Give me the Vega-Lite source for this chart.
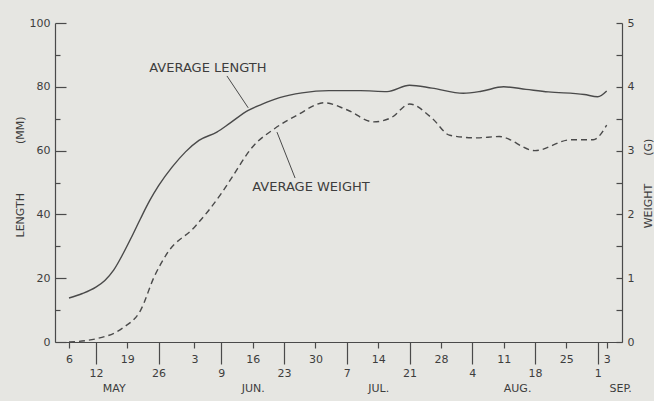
{
  "$schema": "https://vega.github.io/schema/vega-lite/v6.json",
  "width": 567,
  "height": 319,
  "autosize": {"type": "none"},
  "padding": {"left": 55, "top": 23, "right": 32, "bottom": 59},
  "background": "#e6e6e2",
  "config": {
    "view": {"stroke": null},
    "font": "DejaVu Sans",
    "axis": {
      "grid": false,
      "domainColor": "#4a4a4a",
      "tickColor": "#4a4a4a",
      "labelColor": "#3d3d3d",
      "titleColor": "#3d3d3d",
      "labelFont": "DejaVu Sans",
      "titleFont": "DejaVu Sans",
      "labelFontSize": 11,
      "titleFontSize": 11,
      "titleFontWeight": "normal",
      "domainWidth": 1.2,
      "tickWidth": 1.2,
      "labelFlush": false
    }
  },
  "datasets": {
    "length": [
      {"date": "2001-05-06", "length_mm": 13.8},
      {"date": "2001-05-09", "length_mm": 15.2},
      {"date": "2001-05-12", "length_mm": 17.2},
      {"date": "2001-05-14", "length_mm": 19.3},
      {"date": "2001-05-16", "length_mm": 22.6},
      {"date": "2001-05-18", "length_mm": 27.5},
      {"date": "2001-05-20", "length_mm": 33},
      {"date": "2001-05-22", "length_mm": 38.8},
      {"date": "2001-05-24", "length_mm": 44.3},
      {"date": "2001-05-26", "length_mm": 49},
      {"date": "2001-05-29", "length_mm": 54.8},
      {"date": "2001-06-01", "length_mm": 59.6},
      {"date": "2001-06-04", "length_mm": 63.2},
      {"date": "2001-06-08", "length_mm": 65.8},
      {"date": "2001-06-11", "length_mm": 68.7},
      {"date": "2001-06-15", "length_mm": 72.6},
      {"date": "2001-06-18", "length_mm": 74.5},
      {"date": "2001-06-22", "length_mm": 76.6},
      {"date": "2001-06-27", "length_mm": 78.1},
      {"date": "2001-07-03", "length_mm": 78.8},
      {"date": "2001-07-10", "length_mm": 78.8},
      {"date": "2001-07-16", "length_mm": 78.5},
      {"date": "2001-07-21", "length_mm": 80.5},
      {"date": "2001-07-26", "length_mm": 79.6},
      {"date": "2001-08-02", "length_mm": 78.0},
      {"date": "2001-08-06", "length_mm": 78.6},
      {"date": "2001-08-11", "length_mm": 80.0},
      {"date": "2001-08-16", "length_mm": 79.2},
      {"date": "2001-08-21", "length_mm": 78.4},
      {"date": "2001-08-29", "length_mm": 77.6},
      {"date": "2001-09-01", "length_mm": 76.9},
      {"date": "2001-09-03", "length_mm": 78.7}
    ],
    "weight": [
      {"date": "2001-05-06", "weight_g": 0.0},
      {"date": "2001-05-12", "weight_g": 0.05},
      {"date": "2001-05-18", "weight_g": 0.22},
      {"date": "2001-05-22", "weight_g": 0.5},
      {"date": "2001-05-25", "weight_g": 1.02},
      {"date": "2001-05-28", "weight_g": 1.4},
      {"date": "2001-06-03", "weight_g": 1.8},
      {"date": "2001-06-09", "weight_g": 2.33},
      {"date": "2001-06-11", "weight_g": 2.54},
      {"date": "2001-06-16", "weight_g": 3.06},
      {"date": "2001-06-21", "weight_g": 3.35},
      {"date": "2001-06-26", "weight_g": 3.56},
      {"date": "2001-07-02", "weight_g": 3.75},
      {"date": "2001-07-07", "weight_g": 3.64},
      {"date": "2001-07-13", "weight_g": 3.45},
      {"date": "2001-07-17", "weight_g": 3.52},
      {"date": "2001-07-21", "weight_g": 3.73},
      {"date": "2001-07-26", "weight_g": 3.51},
      {"date": "2001-07-30", "weight_g": 3.24},
      {"date": "2001-08-05", "weight_g": 3.2},
      {"date": "2001-08-10", "weight_g": 3.22},
      {"date": "2001-08-18", "weight_g": 3.0},
      {"date": "2001-08-26", "weight_g": 3.17},
      {"date": "2001-08-31", "weight_g": 3.17},
      {"date": "2001-09-03", "weight_g": 3.4}
    ],
    "notes": [
      {"date": "2001-06-06", "y": 86, "label": "AVERAGE LENGTH"},
      {"date": "2001-06-29", "y": 48.6, "label": "AVERAGE WEIGHT"}
    ],
    "leaders": [
      {"date": "2001-06-10T06:00:00Z", "y": 83.4, "date2": "2001-06-15T00:00:00Z", "y2": 73.4},
      {"date": "2001-06-21T10:00:00Z", "y": 65.8, "date2": "2001-06-25T11:00:00Z", "y2": 51.4}
    ]
  },
  "layer": [
    {
      "data": {"name": "length"},
      "mark": {"type": "line", "interpolate": "monotone", "color": "#4a4a4a", "strokeWidth": 1.4},
      "encoding": {
        "x": {
          "field": "date", "type": "temporal",
          "scale": {"type": "utc", "nice": false, "domain": [{"year": 2001, "month": 5, "date": 2, "hours": 21, "utc": true}, {"year": 2001, "month": 9, "date": 6, "hours": 10, "utc": true}]},
          "axis": {
            "orient": "bottom", "title": null,
            "values": [
              {"year": 2001, "month": 5, "date": 6, "utc": true},
              {"year": 2001, "month": 5, "date": 19, "utc": true},
              {"year": 2001, "month": 6, "date": 3, "utc": true},
              {"year": 2001, "month": 6, "date": 16, "utc": true},
              {"year": 2001, "month": 6, "date": 30, "utc": true},
              {"year": 2001, "month": 7, "date": 14, "utc": true},
              {"year": 2001, "month": 7, "date": 28, "utc": true},
              {"year": 2001, "month": 8, "date": 11, "utc": true},
              {"year": 2001, "month": 8, "date": 25, "utc": true},
              {"year": 2001, "month": 9, "date": 3, "utc": true}
            ],
            "labelExpr": "utcdate(datum.value)",
            "tickSize": 6, "labelPadding": 5
          }
        },
        "y": {
          "field": "length_mm", "type": "quantitative",
          "scale": {"domain": [0, 100], "nice": false},
          "axis": {
            "orient": "left",
            "values": [0, 20, 40, 60, 80, 100],
            "tickSize": -11, "labelPadding": 16,
            "title": "LENGTH\u00a0\u00a0\u00a0\u00a0\u00a0\u00a0\u00a0\u00a0\u00a0\u00a0\u00a0\u00a0\u00a0\u00a0(MM)",
            "titleX": -35, "titleY": 153.5, "titleAngle": 270, "titleAlign": "center", "titleBaseline": "middle"
          }
        }
      }
    },
    {
      "data": {"name": "length"},
      "mark": {"type": "line", "interpolate": "monotone", "strokeOpacity": 0},
      "encoding": {
        "x": {
          "field": "date", "type": "temporal",
          "scale": {"type": "utc", "nice": false, "domain": [{"year": 2001, "month": 5, "date": 2, "hours": 21, "utc": true}, {"year": 2001, "month": 9, "date": 6, "hours": 10, "utc": true}]},
          "axis": {
            "orient": "bottom", "title": null, "domain": false,
            "values": [
              {"year": 2001, "month": 5, "date": 12, "utc": true},
              {"year": 2001, "month": 5, "date": 26, "utc": true},
              {"year": 2001, "month": 6, "date": 9, "utc": true},
              {"year": 2001, "month": 6, "date": 23, "utc": true},
              {"year": 2001, "month": 7, "date": 7, "utc": true},
              {"year": 2001, "month": 7, "date": 21, "utc": true},
              {"year": 2001, "month": 8, "date": 4, "utc": true},
              {"year": 2001, "month": 8, "date": 18, "utc": true},
              {"year": 2001, "month": 9, "date": 1, "utc": true}
            ],
            "labelExpr": "utcdate(datum.value)",
            "tickSize": 22, "labelPadding": 3
          }
        },
        "y": {
          "field": "length_mm", "type": "quantitative",
          "scale": {"domain": [0, 100], "nice": false},
          "axis": {
            "orient": "left", "title": null, "domain": false, "labels": false,
            "values": [10, 30, 50, 70, 90],
            "tickSize": -5
          }
        }
      }
    },
    {
      "data": {"name": "weight"},
      "mark": {"type": "line", "interpolate": "monotone", "color": "#4a4a4a", "strokeWidth": 1.4, "strokeDash": [6, 4]},
      "encoding": {
        "x": {
          "field": "date", "type": "temporal",
          "scale": {"type": "utc", "nice": false, "domain": [{"year": 2001, "month": 5, "date": 2, "hours": 21, "utc": true}, {"year": 2001, "month": 9, "date": 6, "hours": 10, "utc": true}]},
          "axis": {
            "orient": "bottom", "title": null, "domain": false, "ticks": false,
            "values": [
              {"year": 2001, "month": 5, "date": 16, "utc": true},
              {"year": 2001, "month": 6, "date": 16, "utc": true},
              {"year": 2001, "month": 7, "date": 14, "utc": true},
              {"year": 2001, "month": 8, "date": 14, "utc": true},
              {"year": 2001, "month": 9, "date": 6, "utc": true}
            ],
            "labelExpr": "['MAY', 'JUN.', 'JUL.', 'AUG.', 'SEP.'][utcmonth(datum.value) - 4]",
            "labelPadding": 40
          }
        },
        "y": {
          "field": "weight_g", "type": "quantitative",
          "scale": {"domain": [0, 5], "nice": false},
          "axis": {
            "orient": "right",
            "values": [0, 0.5, 1, 1.5, 2, 2.5, 3, 3.5, 4, 4.5, 5],
            "labelExpr": "datum.value % 1 === 0 ? format(datum.value, 'd') : ''",
            "tickSize": -6, "labelPadding": 11,
            "title": "WEIGHT\u00a0\u00a0\u00a0\u00a0\u00a0\u00a0\u00a0\u00a0(G)",
            "titleX": 26, "titleY": 160, "titleAngle": 270, "titleAlign": "center", "titleBaseline": "middle"
          }
        }
      }
    },
    {
      "data": {"name": "notes"},
      "mark": {"type": "text", "font": "DejaVu Sans", "fontSize": 13, "color": "#3d3d3d", "align": "center", "baseline": "middle"},
      "encoding": {
        "x": {
          "field": "date", "type": "temporal",
          "scale": {"type": "utc", "nice": false, "domain": [{"year": 2001, "month": 5, "date": 2, "hours": 21, "utc": true}, {"year": 2001, "month": 9, "date": 6, "hours": 10, "utc": true}]},
          "axis": null
        },
        "y": {"field": "y", "type": "quantitative", "scale": {"domain": [0, 100], "nice": false}, "axis": null},
        "text": {"field": "label"}
      }
    },
    {
      "data": {"name": "leaders"},
      "mark": {"type": "rule", "color": "#4a4a4a", "strokeWidth": 1},
      "encoding": {
        "x": {
          "field": "date", "type": "temporal",
          "scale": {"type": "utc", "nice": false, "domain": [{"year": 2001, "month": 5, "date": 2, "hours": 21, "utc": true}, {"year": 2001, "month": 9, "date": 6, "hours": 10, "utc": true}]},
          "axis": null
        },
        "x2": {"field": "date2"},
        "y": {"field": "y", "type": "quantitative", "scale": {"domain": [0, 100], "nice": false}, "axis": null},
        "y2": {"field": "y2"}
      }
    }
  ],
  "resolve": {"scale": {"y": "independent"}, "axis": {"x": "independent", "y": "independent"}}
}
